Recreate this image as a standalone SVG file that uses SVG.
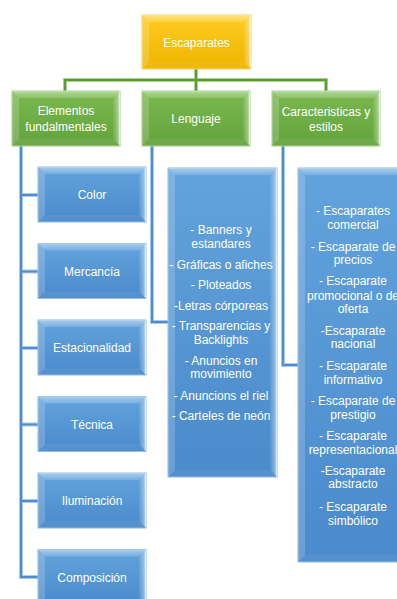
<svg xmlns="http://www.w3.org/2000/svg" width="397" height="599" viewBox="0 0 397 599">
<defs>
<linearGradient id="gy" x1="0" y1="0" x2="0" y2="1"><stop offset="0" stop-color="#FFCC22"/><stop offset="1" stop-color="#EEB400"/></linearGradient>
<linearGradient id="gg" x1="0" y1="0" x2="0" y2="1"><stop offset="0" stop-color="#7AB84F"/><stop offset="1" stop-color="#64A23C"/></linearGradient>
<linearGradient id="gb" x1="0" y1="0" x2="0" y2="1"><stop offset="0" stop-color="#62A3DD"/><stop offset="1" stop-color="#4B8ACB"/></linearGradient>
<linearGradient id="rh" x1="0" y1="0" x2="1" y2="0"><stop offset="0" stop-color="#fff" stop-opacity="0.05"/><stop offset="0.7" stop-color="#fff" stop-opacity="0.35"/><stop offset="1" stop-color="#fff" stop-opacity="0.85"/></linearGradient>
<linearGradient id="th" x1="0" y1="0" x2="0" y2="1"><stop offset="0" stop-color="#fff" stop-opacity="0.45"/><stop offset="1" stop-color="#fff" stop-opacity="0.15"/></linearGradient>
</defs>
<style>
.y{fill:url(#gy);stroke:#F2D46A;stroke-width:1}
.g{fill:url(#gg);stroke:#A8D08D;stroke-width:1}
.b{fill:url(#gb);stroke:#8DBBE6;stroke-width:1}
.top{fill:url(#th)}
.lft{fill:#fff;fill-opacity:0.18}
.rgt{fill:url(#rh)}
.bot{fill:#fff;fill-opacity:0.06}
text{font-family:"Liberation Sans",Arial,sans-serif;font-size:12px;fill:#fff;text-anchor:middle}
.cg{fill:none;stroke:#A9D18E;stroke-width:4}
.cg2{fill:none;stroke:#5E9B36;stroke-width:2}
.cb{fill:none;stroke:#A9CBEA;stroke-width:4}
.cb2{fill:none;stroke:#4F8ECB;stroke-width:2}
</style>
<g id="connectors">
<path class="cg" d="M196,69V80M65,91V80H326V91M196,80V91"/>
<path class="cg2" d="M196,69V80M65,91V80H326V91M196,80V91"/>
<path class="cb" d="M21,146V577H38M21,195H38M21,271.5H38M21,348H38M21,424.5H38M21,501H38M152,146V322H168M283,146V365H298"/>
<path class="cb2" d="M21,146V577H38M21,195H38M21,271.5H38M21,348H38M21,424.5H38M21,501H38M152,146V322H168M283,146V365H298"/>
</g>
<g id="escaparates">
<rect class="y" x="142" y="15" width="109" height="54"/>
<polygon class="top" points="142,15 251,15 244,22 149,22"/>
<polygon class="lft" points="142,15 149,22 149,62 142,69"/>
<polygon class="rgt" points="251,15 251,69 244,62 244,22"/>
<polygon class="bot" points="142,69 251,69 244,62 149,62"/>
<text x="196.5" y="47">Escaparates</text>
</g>
<g id="elementos">
<rect class="g" x="12" y="91" width="108" height="55"/>
<polygon class="top" points="12,91 120,91 113,98 19,98"/>
<polygon class="lft" points="12,91 19,98 19,139 12,146"/>
<polygon class="rgt" points="120,91 120,146 113,139 113,98"/>
<polygon class="bot" points="12,146 120,146 113,139 19,139"/>
<text x="66" y="114.5">Elementos</text>
<text x="66" y="130.5">fundalmentales</text>
</g>
<g id="lenguaje">
<rect class="g" x="142" y="91" width="108" height="55"/>
<polygon class="top" points="142,91 250,91 243,98 149,98"/>
<polygon class="lft" points="142,91 149,98 149,139 142,146"/>
<polygon class="rgt" points="250,91 250,146 243,139 243,98"/>
<polygon class="bot" points="142,146 250,146 243,139 149,139"/>
<text x="196" y="122.5">Lenguaje</text>
</g>
<g id="caracteristicas">
<rect class="g" x="272" y="91" width="108" height="55"/>
<polygon class="top" points="272,91 380,91 373,98 279,98"/>
<polygon class="lft" points="272,91 279,98 279,139 272,146"/>
<polygon class="rgt" points="380,91 380,146 373,139 373,98"/>
<polygon class="bot" points="272,146 380,146 373,139 279,139"/>
<text x="326" y="115.5">Caracteristicas y</text>
<text x="326" y="130.5">estilos</text>
</g>
<g id="color">
<rect class="b" x="38" y="167" width="108" height="55"/>
<polygon class="top" points="38,167 146,167 139,174 45,174"/>
<polygon class="lft" points="38,167 45,174 45,215 38,222"/>
<polygon class="rgt" points="146,167 146,222 139,215 139,174"/>
<polygon class="bot" points="38,222 146,222 139,215 45,215"/>
<text x="92" y="199">Color</text>
</g>
<g id="mercancia">
<rect class="b" x="38" y="243.5" width="108" height="55"/>
<polygon class="top" points="38,243.5 146,243.5 139,250.5 45,250.5"/>
<polygon class="lft" points="38,243.5 45,250.5 45,291.5 38,298.5"/>
<polygon class="rgt" points="146,243.5 146,298.5 139,291.5 139,250.5"/>
<polygon class="bot" points="38,298.5 146,298.5 139,291.5 45,291.5"/>
<text x="92" y="275.5">Mercancía</text>
</g>
<g id="estacionalidad">
<rect class="b" x="38" y="320" width="108" height="55"/>
<polygon class="top" points="38,320 146,320 139,327 45,327"/>
<polygon class="lft" points="38,320 45,327 45,368 38,375"/>
<polygon class="rgt" points="146,320 146,375 139,368 139,327"/>
<polygon class="bot" points="38,375 146,375 139,368 45,368"/>
<text x="92" y="352">Estacionalidad</text>
</g>
<g id="tecnica">
<rect class="b" x="38" y="396.5" width="108" height="55"/>
<polygon class="top" points="38,396.5 146,396.5 139,403.5 45,403.5"/>
<polygon class="lft" points="38,396.5 45,403.5 45,444.5 38,451.5"/>
<polygon class="rgt" points="146,396.5 146,451.5 139,444.5 139,403.5"/>
<polygon class="bot" points="38,451.5 146,451.5 139,444.5 45,444.5"/>
<text x="92" y="428.5">Técnica</text>
</g>
<g id="iluminacion">
<rect class="b" x="38" y="473" width="108" height="55"/>
<polygon class="top" points="38,473 146,473 139,480 45,480"/>
<polygon class="lft" points="38,473 45,480 45,521 38,528"/>
<polygon class="rgt" points="146,473 146,528 139,521 139,480"/>
<polygon class="bot" points="38,528 146,528 139,521 45,521"/>
<text x="92" y="505">Iluminación</text>
</g>
<g id="composicion">
<rect class="b" x="38" y="549.5" width="108" height="55"/>
<polygon class="top" points="38,549.5 146,549.5 139,556.5 45,556.5"/>
<polygon class="lft" points="38,549.5 45,556.5 45,597.5 38,604.5"/>
<polygon class="rgt" points="146,549.5 146,604.5 139,597.5 139,556.5"/>
<text x="92" y="581.5">Composición</text>
</g>
<g id="lenguaje-lista">
<rect class="b" x="168" y="168" width="109" height="309"/>
<polygon class="top" points="168,168 277,168 270,175 175,175"/>
<polygon class="lft" points="168,168 175,175 175,470 168,477"/>
<polygon class="rgt" points="277,168 277,477 270,470 270,175"/>
<polygon class="bot" points="168,477 277,477 270,470 175,470"/>
<text x="221" y="233.5">- Banners y</text>
<text x="221" y="247.5">estandares</text>
<text x="221" y="268.5">- Gráficas o afiches</text>
<text x="221" y="289">- Ploteados</text>
<text x="221" y="309.5">-Letras córporeas</text>
<text x="221" y="330">- Transparencias y</text>
<text x="221" y="343.5">Backlights</text>
<text x="221" y="364.5">- Anuncios en</text>
<text x="221" y="378">movimiento</text>
<text x="221" y="399.5">- Anuncions el riel</text>
<text x="221" y="420">- Carteles de neón</text>
</g>
<g id="estilos-lista">
<rect class="b" x="298" y="168" width="109" height="394"/>
<polygon class="top" points="298,168 407,168 400,175 305,175"/>
<polygon class="lft" points="298,168 305,175 305,555 298,562"/>
<polygon class="bot" points="298,562 407,562 400,555 305,555"/>
<text x="353" y="215">- Escaparates</text>
<text x="353" y="228.5">comercial</text>
<text x="353" y="250.5">- Escaparate de</text>
<text x="353" y="263.5">precios</text>
<text x="353" y="285">- Escaparate</text>
<text x="353" y="299.5">promocional o de</text>
<text x="353" y="312.5">oferta</text>
<text x="353" y="334.5">-Escaparate</text>
<text x="353" y="347.5">nacional</text>
<text x="353" y="369.5">- Escaparate</text>
<text x="353" y="383.5">informativo</text>
<text x="353" y="404.5">- Escaparate de</text>
<text x="353" y="418.5">prestigio</text>
<text x="353" y="439.5">- Escaparate</text>
<text x="353" y="453.5">representacional</text>
<text x="353" y="475">-Escaparate</text>
<text x="353" y="487.5">abstracto</text>
<text x="353" y="510.5">- Escaparate</text>
<text x="353" y="524.5">simbólico</text>
</g>
</svg>
